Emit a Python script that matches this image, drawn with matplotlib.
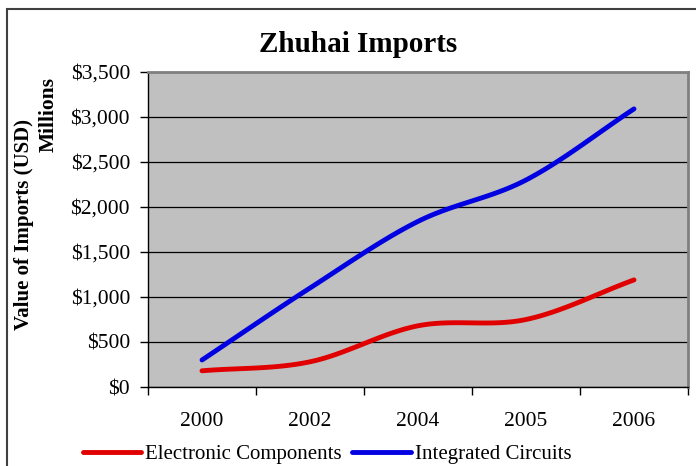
import numpy as np
import matplotlib
matplotlib.use("Agg")
import matplotlib.pyplot as plt
from matplotlib.patches import Rectangle

# Data (USD millions)
years = ["2000", "2002", "2004", "2005", "2006"]
electronic = [180, 280, 680, 750, 1190]
integrated = [300, 1100, 1840, 2300, 3090]
y_ticks = [0, 500, 1000, 1500, 2000, 2500, 3000, 3500]


def smooth(xs, ys, n=30):
    # Catmull-Rom style smoothing, similar to Excel "smoothed line"
    xs = np.asarray(xs, float)
    ys = np.asarray(ys, float)
    px = np.concatenate([[2 * xs[0] - xs[1]], xs, [2 * xs[-1] - xs[-2]]])
    py = np.concatenate([[2 * ys[0] - ys[1]], ys, [2 * ys[-1] - ys[-2]]])
    out_x, out_y = [], []
    for i in range(1, len(px) - 2):
        t = np.linspace(0, 1, n)
        for p, out in ((px, out_x), (py, out_y)):
            p0, p1, p2, p3 = p[i - 1], p[i], p[i + 1], p[i + 2]
            out.extend(0.5 * ((2 * p1) + (-p0 + p2) * t
                              + (2 * p0 - 5 * p1 + 4 * p2 - p3) * t ** 2
                              + (-p0 + 3 * p1 - 3 * p2 + p3) * t ** 3))
    return out_x, out_y


plt.rcParams['font.family'] = ['Liberation Serif', 'DejaVu Serif']

fig = plt.figure(figsize=(6.96, 4.66), dpi=100)
ax = fig.add_axes([148 / 696, 1 - 387 / 466, 540 / 696, 315 / 466])
ax.set_facecolor('#C0C0C0')

x = np.arange(len(years))
ex, ey = smooth(x, electronic)
ix, iy = smooth(x, integrated)
ax.plot(ex, ey, color='#E00000', lw=3.5, solid_capstyle='round', label='Electronic Components')
ax.plot(ix, iy, color='#0000E0', lw=3.5, solid_capstyle='round', label='Integrated Circuits')

ax.set_xlim(-0.5, len(years) - 0.5)
ax.set_ylim(0, 3500)
ax.set_yticks(y_ticks)
ax.set_yticklabels(['${:,}'.format(v) for v in y_ticks])
ax.yaxis.grid(True, color='black', lw=0.9)
ax.set_axisbelow(True)

ax.set_xticks(np.arange(-0.5, len(years), 1.0))
ax.set_xticklabels([])
ax.set_xticks(x, minor=True)
ax.set_xticklabels(years, minor=True)
ax.tick_params(axis='x', which='major', length=6, width=1, direction='out')
ax.tick_params(axis='x', which='minor', length=0, pad=18, labelsize=15.5)
ax.tick_params(axis='y', length=6, width=1, direction='out', pad=7, labelsize=15.5)

for side in ['top', 'right']:
    ax.spines[side].set_color('#808080')
    ax.spines[side].set_linewidth(2)
for side in ['left', 'bottom']:
    ax.spines[side].set_color('black')
    ax.spines[side].set_linewidth(1)

fig.text(358 / 696, 1 - 45 / 466, 'Zhuhai Imports', ha='center', va='center',
         fontsize=21, fontweight='bold')
fig.text(24 / 696, 1 - 224 / 466, 'Value of Imports (USD)', rotation=90,
         ha='center', va='center', fontsize=15, fontweight='bold')
fig.text(49 / 696, 1 - 114 / 466, 'Millions', rotation=90,
         ha='center', va='center', fontsize=15.5, fontweight='bold')

fig.legend(loc='center', bbox_to_anchor=(327 / 696, 1 - 454 / 466), ncol=2,
           frameon=False, fontsize=15, handlelength=2.8, handletextpad=0.2,
           columnspacing=0.5)

# chart-area border (cropped on right and bottom)
fig.patches.append(Rectangle((7 / 696, -0.1), 1.0, 1 - 9 / 466 + 0.1,
                             transform=fig.transFigure, fill=False,
                             edgecolor='#404040', lw=1.5))

fig.savefig('out.png', dpi=100)
